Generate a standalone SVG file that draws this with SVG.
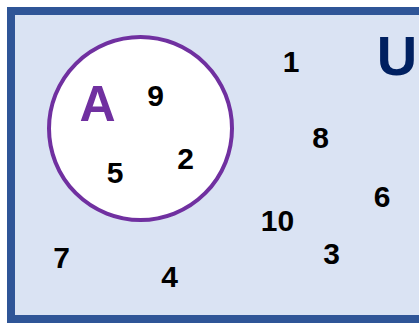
<svg xmlns="http://www.w3.org/2000/svg" width="419" height="324" viewBox="0 0 419 324">
<style>
.n{font-family:"Liberation Sans",Arial,sans-serif;font-weight:bold;font-size:30px;fill:#000;text-anchor:middle}
</style>
<rect width="419" height="324" fill="#fff"/>
<g id="universe">
<rect x="11" y="11" width="430" height="308" fill="#dae3f3" stroke="#2f5597" stroke-width="8"/>
<text x="397" y="75" font-family="Liberation Sans,Arial,sans-serif" font-weight="bold" font-size="56" fill="#002060" text-anchor="middle">U</text>
</g>
<g id="setA">
<circle cx="140.5" cy="128.5" r="91.5" fill="#fff" stroke="#7030a0" stroke-width="4"/>
<text x="97.5" y="121" font-family="Liberation Sans,Arial,sans-serif" font-weight="bold" font-size="50" fill="#7030a0" text-anchor="middle">A</text>
</g>
<g id="elements">
<text class="n" x="155.5" y="106">9</text>
<text class="n" x="115" y="183">5</text>
<text class="n" x="185.5" y="169">2</text>
<text class="n" x="291" y="72">1</text>
<text class="n" x="320.5" y="148">8</text>
<text class="n" x="382" y="207">6</text>
<text class="n" x="277.5" y="231">10</text>
<text class="n" x="331.5" y="264">3</text>
<text class="n" x="61.5" y="268">7</text>
<text class="n" x="169.5" y="287">4</text>
</g>
<g id="connectors"/>
</svg>
